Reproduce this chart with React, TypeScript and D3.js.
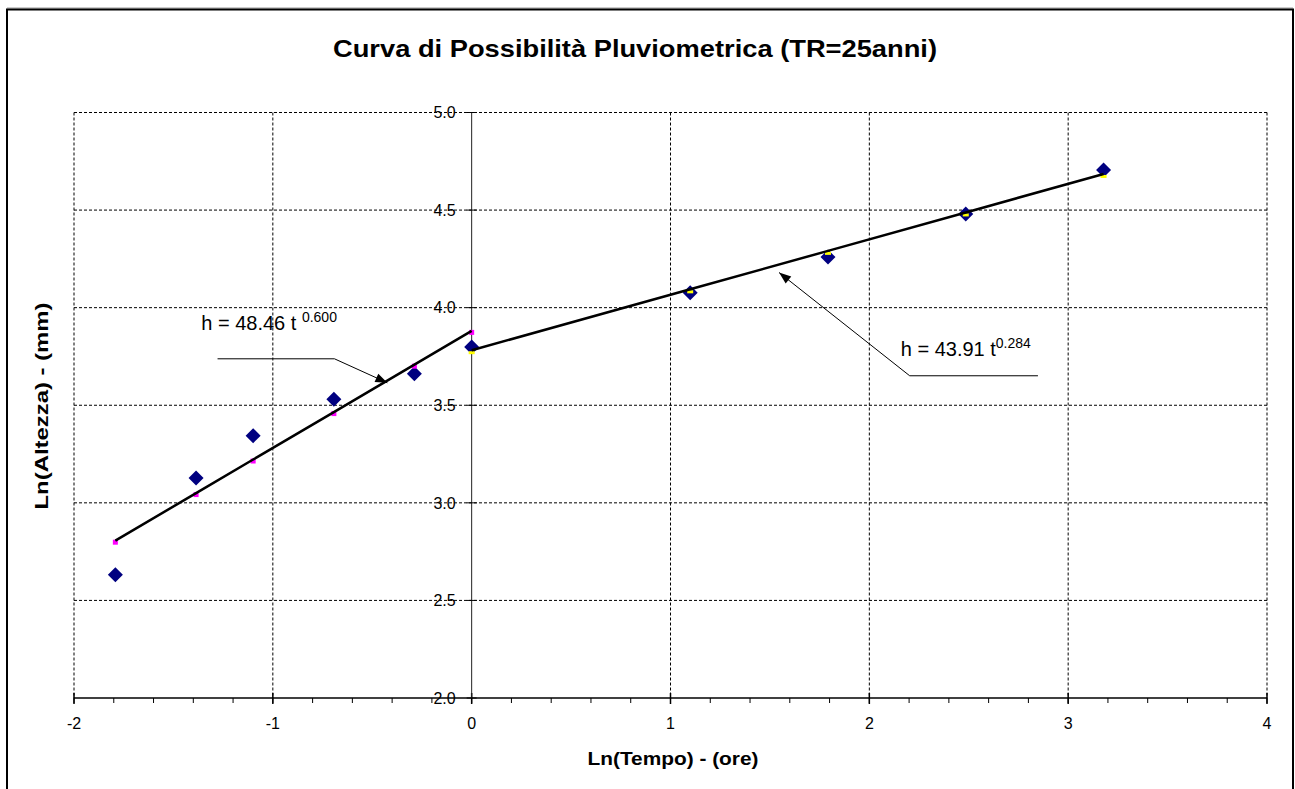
import * as d3 from "d3";

// ln(t) in ore, ln(h) in mm
const lnTempo = [-1.792, -1.386, -1.099, -0.693, -0.288, 0, 1.099, 1.792, 2.485, 3.178];
const lnAltezza = [2.632, 3.127, 3.344, 3.531, 3.661, 3.798, 4.077, 4.259, 4.48, 4.706];

// fitted values (t < 1h and t >= 1h)
const lnTempoBreve = [-1.792, -1.386, -1.099, -0.693, -0.288, 0];
const fitBreve = [2.806, 3.05, 3.222, 3.465, 3.708, 3.881];
const lnTempoLungo = [0, 1.099, 1.792, 2.485, 3.178];
const fitLungo = [3.782, 4.094, 4.291, 4.488, 4.685];

const xTicks = [-2, -1, 0, 1, 2, 3, 4];
const yTicks = [2.0, 2.5, 3.0, 3.5, 4.0, 4.5, 5.0];

const W = 1295;
const H = 789;
const FONT = "'Liberation Sans', Arial, sans-serif";

export default function App() {
  const x = d3.scaleLinear().domain([-2, 4]).range([74, 1267]);
  const y = d3.scaleLinear().domain([2, 5]).range([698, 112.5]);

  const minorX = d3.range(-2, 4.001, 0.2);

  const line = d3
    .line<[number, number]>()
    .x((d) => x(d[0]))
    .y((d) => y(d[1]));

  const breve = lnTempoBreve.map((t, i) => [t, fitBreve[i]] as [number, number]);
  const lungo = lnTempoLungo.map((t, i) => [t, fitLungo[i]] as [number, number]);

  // annotation leaders, in data coords
  const lead1 = [
    [-1.278, 3.738],
    [-0.69, 3.738],
    [-0.424, 3.615],
  ] as [number, number][];
  const lead2 = [
    [2.848, 3.651],
    [2.203, 3.651],
    [1.546, 4.18],
  ] as [number, number][];

  const diamond = (cx: number, cy: number, r: number) =>
    `M${cx},${cy - r}L${cx + r},${cy}L${cx},${cy + r}L${cx - r},${cy}Z`;

  const arrowHead = (pts: [number, number][]) => {
    const a = pts[pts.length - 2];
    const b = pts[pts.length - 1];
    const x1 = x(a[0]), y1 = y(a[1]), x2 = x(b[0]), y2 = y(b[1]);
    const ang = Math.atan2(y2 - y1, x2 - x1);
    const len = 12, wid = 4.5;
    const bx = x2 - len * Math.cos(ang), by = y2 - len * Math.sin(ang);
    const px = -Math.sin(ang) * wid, py = Math.cos(ang) * wid;
    return `M${x2},${y2}L${bx + px},${by + py}L${bx - px},${by - py}Z`;
  };

  return (
    <svg
      width={W}
      height={H}
      style={{ position: "absolute", left: 0, top: 0, background: "#fff" }}
      fontFamily={FONT}
    >
      {/* chart frame */}
      <line x1={7} x2={1293} y1={8} y2={8} stroke="#999" strokeWidth={1} />
      <rect x={7} y={9.5} width={1286} height={800} fill="none" stroke="#000" strokeWidth={2} />

      <text
        x={635}
        y={57}
        textAnchor="middle"
        fontSize={24}
        fontWeight="bold"
        textLength={604}
        lengthAdjust="spacingAndGlyphs"
      >
        Curva di Possibilità Pluviometrica (TR=25anni)
      </text>

      {/* grid */}
      {yTicks
        .filter((v) => v > 2)
        .map((v) => (
          <line
            key={"gy" + v}
            x1={x(-2)}
            x2={x(4)}
            y1={y(v)}
            y2={y(v)}
            stroke="#000"
            strokeWidth={1}
            strokeDasharray="3,2"
          />
        ))}
      {xTicks
        .filter((v) => v !== 0)
        .map((v) => (
          <line
            key={"gx" + v}
            x1={x(v)}
            x2={x(v)}
            y1={y(5)}
            y2={y(2)}
            stroke="#000"
            strokeWidth={1}
            strokeDasharray="3,2"
          />
        ))}

      {/* x axis */}
      <line x1={x(-2)} x2={x(4)} y1={y(2)} y2={y(2)} stroke="#000" strokeWidth={1.5} />
      {minorX.map((v, i) => (
        <line key={"mx" + i} x1={x(v)} x2={x(v)} y1={y(2)} y2={y(2) + 5} stroke="#000" />
      ))}
      {xTicks.map((v) => (
        <g key={"tx" + v}>
          <line x1={x(v)} x2={x(v)} y1={y(2) - 5} y2={y(2) + 6} stroke="#000" strokeWidth={1.5} />
          <text x={x(v)} y={729} textAnchor="middle" fontSize={16}>
            {d3.format("d")(v).replace("−", "-")}
          </text>
        </g>
      ))}

      {/* y axis at x = 0 */}
      <line x1={x(0)} x2={x(0)} y1={y(5)} y2={y(2)} stroke="#222" strokeWidth={1} />
      {yTicks.map((v) => (
        <g key={"ty" + v}>
          <line x1={x(0) - 5} x2={x(0) + 5} y1={y(v)} y2={y(v)} stroke="#000" />
          <text x={x(0) - 16} y={y(v)} dy="0.36em" textAnchor="end" fontSize={16}>
            {d3.format(".1f")(v)}
          </text>
        </g>
      ))}

      {/* observed */}
      {lnTempo.map((t, i) => (
        <path key={"d" + i} d={diamond(x(t), y(lnAltezza[i]), 7.5)} fill="#000080" />
      ))}

      {/* fitted markers */}
      {breve.map((d, i) => (
        <rect key={"m" + i} x={x(d[0]) - 2.5} y={y(d[1]) - 1} width={5} height={5} fill="#ff00ff" />
      ))}
      {lungo.map((d, i) => (
        <rect key={"yl" + i} x={x(d[0]) - 3} y={y(d[1]) + 1} width={6} height={3} fill="#ffff00" />
      ))}

      {/* regression lines */}
      <path d={line(breve) ?? ""} fill="none" stroke="#000" strokeWidth={2.5} />
      <path d={line(lungo) ?? ""} fill="none" stroke="#000" strokeWidth={2.5} />

      {/* annotations */}
      <path d={line(lead1) ?? ""} fill="none" stroke="#000" strokeWidth={1} />
      <path d={arrowHead(lead1)} fill="#000" />
      <text x={x(-1.36)} y={y(3.886)} fontSize={20}>
        h = 48.46 t <tspan fontSize={14} dy={-8}>0.600</tspan>
      </text>

      <path d={line(lead2) ?? ""} fill="none" stroke="#000" strokeWidth={1} />
      <path d={arrowHead(lead2)} fill="#000" />
      <text x={x(2.158)} y={y(3.75)} fontSize={20}>
        h = 43.91 t<tspan fontSize={14} dy={-8}>0.284</tspan>
      </text>

      {/* axis titles */}
      <text x={673} y={765} textAnchor="middle" fontSize={18} fontWeight="bold" textLength={171} lengthAdjust="spacingAndGlyphs">
        Ln(Tempo) - (ore)
      </text>
      <text
        transform={`translate(48,406) rotate(-90)`}
        textAnchor="middle"
        fontSize={18}
        fontWeight="bold"
        textLength={207}
        lengthAdjust="spacingAndGlyphs"
      >
        Ln(Altezza) - (mm)
      </text>
    </svg>
  );
}
